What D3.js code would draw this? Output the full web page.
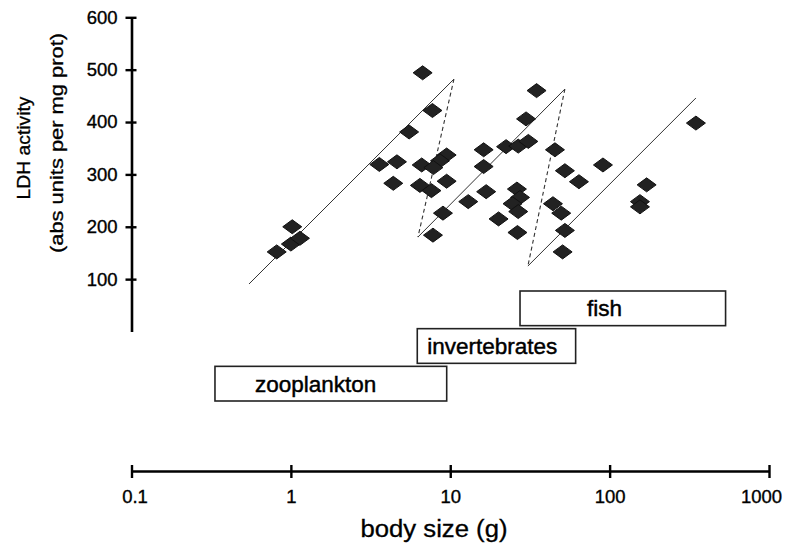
<!DOCTYPE html>
<html>
<head>
<meta charset="utf-8">
<script src="https://cdn.jsdelivr.net/npm/d3@7"></script>
<style>
  body { margin: 0; background: #fff; }
  svg { display: block; font-family: "Liberation Sans", Arial, sans-serif; }
</style>
</head>
<body>
<div id="chart"></div>
<script>
// samples: body size (g) and LDH activity
const bodySize = [
  0.815, 1.0, 1.02, 1.14,
  3.59, 4.63, 4.39, 5.52, 6.71, 7.73, 6.62, 6.45, 7.62, 9.49, 8.62, 7.84, 9.49, 9.0, 7.79,
  12.97, 16.8, 16.2, 16.2, 20.1, 22.4, 26.7, 30.9, 29.9, 34.8, 26.2, 27.4, 24.6, 26.7, 26.4,
  45.4, 52.4, 64.2, 90.8, 44.1, 49.7, 52.4, 50.7, 170.7, 155, 155, 347.9
];
const ldhActivity = [
  152, 167, 200, 178,
  319, 324, 283, 381, 494, 422, 318, 279, 269, 337, 326, 313, 287, 226, 184,
  248, 267, 347, 315, 215, 353, 354, 363, 406, 460, 272, 256, 244, 229, 189,
  347, 307, 286, 318, 244, 226, 193, 152, 280, 248, 238, 398
];

// fitted lines per group (solid), joined by dashed lines
const lineStartX = [0.546, 6.27, 30.7];
const lineStartY = [90.7, 180.4, 125];
const lineEndX = [10.55, 52.4, 347.9];
const lineEndY = [482, 463, 445.9];

// body size range of each group (g)
const groups = ["fish", "invertebrates", "zooplankton"];
const groupMin = [27.4, 6.21, 0.334];
const groupMax = [534, 61.2, 9.5];

const xTicks = [0.1, 1, 10, 100, 1000];
const xTickLabels = ["0.1", "1", "10", "100", "1000"];
const yTicks = [100, 200, 300, 400, 500, 600];

const width = 787, height = 545;
const font = "'Liberation Sans', Arial, sans-serif";

const svg = d3.select("#chart").append("svg")
  .attr("width", width)
  .attr("height", height);

const x = d3.scaleLog().domain([0.1, 1000]).range([131.5, 769]);
const y = d3.scaleLinear().domain([0, 600]).range([331.5, 17.3]);
const row = d3.scaleBand().domain(groups).range([291, 401]).paddingInner(0.08);

// y axis
const yAxis = svg.append("g")
  .attr("transform", `translate(${x(0.1)},0)`)
  .call(d3.axisLeft(y).tickValues(yTicks).tickSizeOuter(0));
yAxis.select(".domain").attr("stroke", "#000").attr("stroke-width", 2.6);
yAxis.selectAll(".tick line").attr("x1", -6).attr("x2", 5).attr("stroke", "#000").attr("stroke-width", 2.4);
yAxis.selectAll(".tick text")
  .attr("x", -14)
  .style("font-size", "18.5px")
  .style("font-family", font)
  .attr("fill", "#000")
  .attr("stroke", "#000")
  .attr("stroke-width", 0.35);

// x axis
const xAxis = svg.append("g")
  .attr("transform", "translate(0,471)")
  .call(d3.axisBottom(x).tickValues(xTicks).tickFormat((d, i) => xTickLabels[i]).tickSizeOuter(0));
xAxis.select(".domain").attr("stroke", "#000").attr("stroke-width", 2.6);
xAxis.selectAll(".tick line").attr("y1", -6).attr("y2", 7).attr("stroke", "#000").attr("stroke-width", 2.4);
xAxis.selectAll(".tick text")
  .attr("y", 32)
  .attr("dy", 0)
  .attr("dx", (d, i) => i === xTicks.length - 1 ? -8 : (i === 0 ? 3 : 0))
  .style("font-size", "18.5px")
  .style("font-family", font)
  .attr("fill", "#000")
  .attr("stroke", "#000")
  .attr("stroke-width", 0.35);

// axis titles
svg.append("text")
  .attr("x", 434)
  .attr("y", 537)
  .attr("text-anchor", "middle")
  .attr("textLength", 147)
  .attr("lengthAdjust", "spacingAndGlyphs")
  .style("font-size", "23px")
  .attr("stroke", "#000")
  .attr("stroke-width", 0.3)
  .text("body size (g)");

svg.append("text")
  .attr("transform", "translate(30,148) rotate(-90)")
  .attr("text-anchor", "middle")
  .attr("textLength", 103)
  .attr("lengthAdjust", "spacingAndGlyphs")
  .style("font-size", "18px")
  .attr("stroke", "#000")
  .attr("stroke-width", 0.3)
  .text("LDH activity");

svg.append("text")
  .attr("transform", "translate(63,143) rotate(-90)")
  .attr("text-anchor", "middle")
  .attr("textLength", 220)
  .attr("lengthAdjust", "spacingAndGlyphs")
  .style("font-size", "18px")
  .attr("stroke", "#000")
  .attr("stroke-width", 0.3)
  .text("(abs units per mg prot)");

// group size ranges
const labelDx = [67, 10, 40];
const boxes = svg.append("g").selectAll("g")
  .data(groups)
  .join("g");
boxes.append("rect")
  .attr("x", (d, i) => x(groupMin[i]))
  .attr("y", d => row(d))
  .attr("width", (d, i) => x(groupMax[i]) - x(groupMin[i]))
  .attr("height", row.bandwidth())
  .attr("fill", "#fff")
  .attr("stroke", "#222")
  .attr("stroke-width", 1.6);
boxes.append("text")
  .attr("x", (d, i) => x(groupMin[i]) + labelDx[i])
  .attr("y", d => row(d) + row.bandwidth() / 2 + 8)
  .style("font-size", "22.5px")
  .attr("fill", "#000")
  .attr("stroke", "#000")
  .attr("stroke-width", 0.45)
  .text(d => d);

// solid fitted lines
svg.append("g").selectAll("line")
  .data(lineStartX)
  .join("line")
  .attr("x1", (d, i) => x(lineStartX[i]))
  .attr("y1", (d, i) => y(lineStartY[i]))
  .attr("x2", (d, i) => x(lineEndX[i]))
  .attr("y2", (d, i) => y(lineEndY[i]))
  .attr("stroke", "#333")
  .attr("stroke-width", 1);

// dashed joins
svg.append("g").selectAll("line")
  .data(lineStartX.slice(1))
  .join("line")
  .attr("x1", (d, i) => x(lineEndX[i]))
  .attr("y1", (d, i) => y(lineEndY[i]))
  .attr("x2", (d, i) => x(lineStartX[i + 1]))
  .attr("y2", (d, i) => y(lineStartY[i + 1]))
  .attr("stroke", "#333")
  .attr("stroke-width", 1.1)
  .attr("stroke-dasharray", "4,3");

// diamonds
svg.append("g").selectAll("path")
  .data(bodySize)
  .join("path")
  .attr("transform", (d, i) => `translate(${x(d)},${y(ldhActivity[i])})`)
  .attr("d", "M-9.5,0L0,-7L9.5,0L0,7Z")
  .attr("fill", "#222")
  .attr("stroke", "#111")
  .attr("stroke-width", 1)
  .attr("stroke-linejoin", "round");
</script>
</body>
</html>
